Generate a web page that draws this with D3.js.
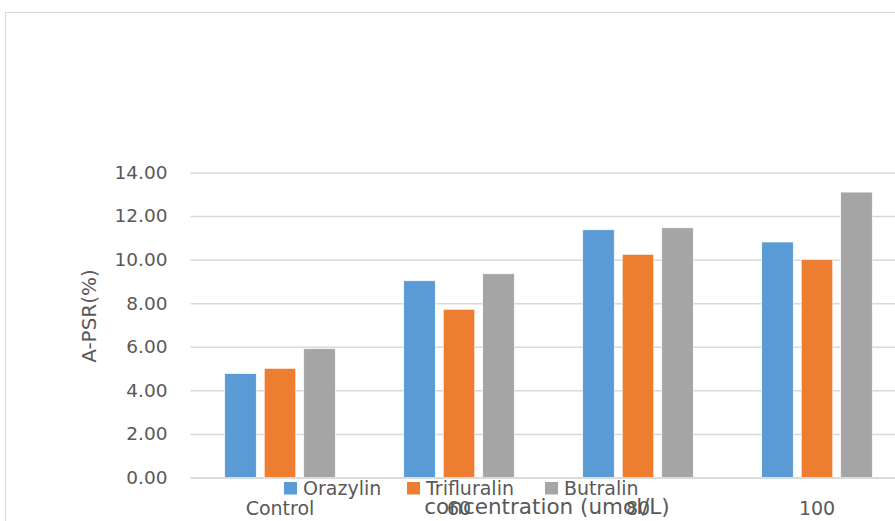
<!DOCTYPE html>
<html>
<head>
<meta charset="utf-8">
<script src="https://cdn.jsdelivr.net/npm/d3@7"></script>
<style>
  html, body { margin: 0; padding: 0; background: #fff; }
  svg { display: block; font-family: "DejaVu Sans", sans-serif; }
</style>
</head>
<body>
<svg id="chart" width="895" height="521"></svg>
<script>
// Concentration groups along the x axis
const categories = ["Control", "60", "80", "100"];
// Herbicide series
const seriesNames = ["Orazylin", "Trifluralin", "Butralin"];
// A-PSR (%) per series, one value per concentration
const orazylin    = [4.77, 9.03, 11.37, 10.81];
const trifluralin = [5.01, 7.72, 10.24, 10.01];
const butralin    = [5.91, 9.35, 11.46, 13.10];
// Y axis ticks
const yTicks = [0, 2, 4, 6, 8, 10, 12, 14];

const seriesValues = [orazylin, trifluralin, butralin];
const colors = ["#5b9bd5", "#ed7d31", "#a5a5a5"];
const textColor = "#595959";
const gridColor = "#d9d9d9";
const fontFamily = "'DejaVu Sans', sans-serif";

const svg = d3.select("#chart");

// Chart area frame
svg.append("rect")
  .attr("x", 5.5).attr("y", 12.5)
  .attr("width", 1000).attr("height", 600)
  .attr("fill", "#fff")
  .attr("stroke", "#d9d9d9")
  .attr("stroke-width", 1);

const plot = { left: 190.5, right: 906.5, top: 172.5, bottom: 477.5 };

const y = d3.scaleLinear().domain([0, 14]).range([plot.bottom, plot.top]);
const x0 = d3.scaleBand().domain(categories).range([plot.left, plot.right]);
const groupWidth = 110.5;
const x1 = d3.scaleBand().domain(seriesNames).range([0, groupWidth]).paddingInner(0.203);
const groupOffset = (x0.bandwidth() - groupWidth) / 2;

// Horizontal gridlines with value labels
const yAxis = d3.axisLeft(y).tickValues(yTicks).tickSize(-(plot.right - plot.left))
  .tickFormat(d3.format(".2f")).tickPadding(23);
const gy = svg.append("g").attr("transform", `translate(${plot.left},0)`).call(yAxis);
gy.select(".domain").remove();
gy.selectAll(".tick line").attr("stroke", gridColor).attr("stroke-width", 1.5);
gy.selectAll(".tick text")
  .attr("fill", textColor)
  .style("font-size", "18.5px")
  .style("font-family", fontFamily);

// Bars
const groups = svg.append("g").selectAll("g")
  .data(categories)
  .join("g")
  .attr("transform", c => `translate(${x0(c) + groupOffset},0)`);

groups.selectAll("rect")
  .data((c, i) => seriesNames.map((s, j) => ({ s, j, v: seriesValues[j][i] })))
  .join("rect")
  .attr("x", d => x1(d.s))
  .attr("width", x1.bandwidth())
  .attr("y", d => y(d.v))
  .attr("height", d => y(0) - y(d.v))
  .attr("fill", d => colors[d.j])
  .attr("stroke", "#fff")
  .attr("stroke-width", 0.6);

// Category axis
const xAxis = d3.axisBottom(x0).tickSize(0).tickPadding(0);
const gx = svg.append("g").attr("transform", `translate(0,${plot.bottom})`).call(xAxis);
gx.select(".domain").attr("stroke", gridColor).attr("stroke-width", 1.5);
gx.selectAll(".tick text")
  .attr("fill", textColor)
  .attr("dy", null)
  .attr("y", 37.5)
  .style("font-size", "19px")
  .style("font-family", fontFamily);

// Axis titles
svg.append("text")
  .attr("x", 547).attr("y", 514)
  .attr("text-anchor", "middle")
  .attr("fill", textColor)
  .style("font-size", "21.5px")
  .text("concentration (umol/L)");

svg.append("text")
  .attr("transform", "translate(96,316) rotate(-90)")
  .attr("text-anchor", "middle")
  .attr("fill", textColor)
  .style("font-size", "20px")
  .text("A-PSR(%)");

// Legend
const legendX = [284, 407, 545];
const legend = svg.append("g").selectAll("g")
  .data(seriesNames)
  .join("g")
  .attr("transform", (d, i) => `translate(${legendX[i]},482)`);
legend.append("rect")
  .attr("width", 13).attr("height", 12.5)
  .attr("fill", (d, i) => colors[i]);
legend.append("text")
  .attr("x", 19).attr("y", 13)
  .attr("fill", textColor)
  .style("font-size", "19px")
  .text(d => d);
</script>
</body>
</html>
